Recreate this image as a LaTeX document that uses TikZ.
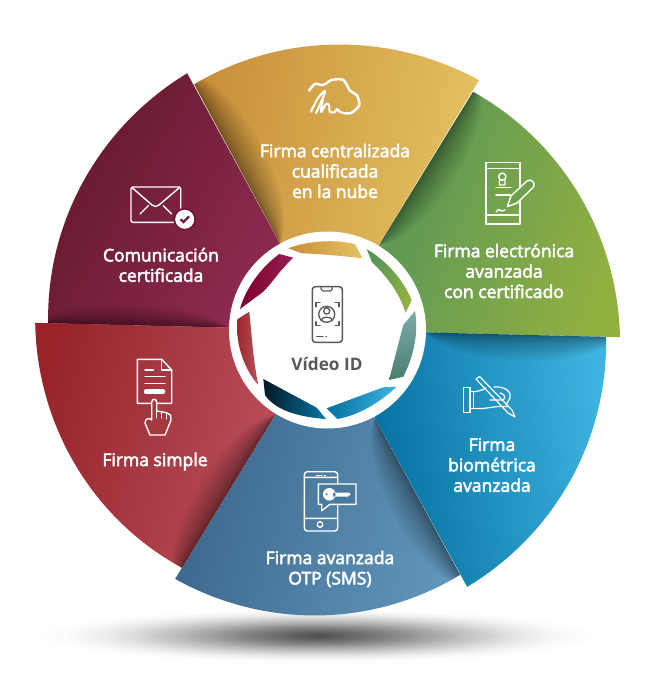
\documentclass[tikz,border=0pt]{standalone}
\usepackage{fontspec}
\setmainfont{Open Sans}[FakeBold=3]
\newfontfamily\vidfont{Open Sans}
\definecolor{goldA}{RGB}{200,143,58}\definecolor{goldB}{RGB}{228,194,98}
\definecolor{greenA}{RGB}{88,150,88}\definecolor{greenB}{RGB}{146,176,64}
\definecolor{blueA}{RGB}{4,112,160}\definecolor{blueB}{RGB}{64,180,224}
\definecolor{slateA}{RGB}{60,102,140}\definecolor{slateB}{RGB}{96,150,186}
\definecolor{redA}{RGB}{152,36,42}\definecolor{redB}{RGB}{186,80,92}
\definecolor{maroonA}{RGB}{98,24,42}\definecolor{maroonM}{RGB}{118,20,52}\definecolor{maroonB}{RGB}{142,42,80}
\definecolor{icongrey}{RGB}{88,89,91}
\newcommand\sectorpath[8]{(#1,#2) -- plot[domain=#5:#6,samples=60,variable=\t]
 ({327+(#7+(#8-#7)*(\t-#5)/(#6-#5))*cos(\t)},{333+(#7+(#8-#7)*(\t-#5)/(#6-#5))*sin(\t)}) -- (#3,#4) -- cycle}
\newcommand\edgeshade[5]{%
 \pgfmathsetmacro\edx{#3-#1}\pgfmathsetmacro\edy{#4-#2}\pgfmathsetmacro\elen{veclen(\edx,\edy)}%
 \pgfmathsetmacro\enx{\edy/\elen}\pgfmathsetmacro\eny{-\edx/\elen}%
 \foreach \i in {1,...,14}{\pgfmathsetmacro\offs{#5*(\i/14)^2*1.33}%
  \fill[black,opacity=.045] (#1,#2) .. controls ({#1+.15*\edx+\enx*\offs},{#2+.15*\edy+\eny*\offs}) and ({#1+.85*\edx+\enx*\offs},{#2+.85*\edy+\eny*\offs}) .. (#3,#4) -- cycle;}}
\tikzset{
 lbl/.style={text=white,font=\fontsize{17.5}{20.4}\selectfont,align=center,inner sep=0pt},
 ico/.style={draw=white,line width=1.4pt,line join=round,line cap=round},
 gico/.style={draw=icongrey,line width=1.5pt,line join=round,line cap=round}}
\begin{document}
\begin{tikzpicture}[x=1pt,y=-1pt]
\useasboundingbox (0,0) rectangle (655,687);
\fill[white] (0,0) rectangle (655,687);
% ground shadow
\foreach \k in {1,...,40}{\pgfmathsetmacro\rxx{285-\k*7.0}\pgfmathsetmacro\ryy{28-\k*.66}\pgfmathsetmacro\opa{.001+.0012*\k}
 \fill[black,opacity=\opa] (318,636) ellipse [x radius=\rxx pt,y radius=\ryy pt];}
% sectors
\begin{scope}\clip \sectorpath{327}{330}{327}{330}{241.7}{182}{295}{279};
 \shade[left color=maroonA,middle color=maroonM,right color=maroonB,shading angle=60] (40,70) rectangle (285,335);
 \edgeshade{35}{323}{229}{328}{20}\end{scope}
\begin{scope}\clip \sectorpath{327}{330}{327}{330}{241.9}{301}{282}{295};
 \shade[left color=goldA,right color=goldB,shading angle=80] (190,40) rectangle (485,250);
 \edgeshade{187}{73}{280}{243}{30}\end{scope}
\begin{scope}\clip \sectorpath{327}{330}{327}{330}{301.2}{360.8}{282}{293};
 \shade[left color=greenA,right color=greenB,shading angle=70] (375,90) rectangle (625,340);
 \edgeshade{479}{80}{378}{245}{30}\end{scope}
\begin{scope}\clip \sectorpath{327}{330}{327}{330}{0.8}{61.1}{279}{290};
 \shade[left color=blueA,right color=blueB,shading angle=100] (375,330) rectangle (610,590);
 \edgeshade{620}{337}{425}{332}{26}\end{scope}
\begin{scope}\clip \sectorpath{327}{330}{327}{330}{61.2}{121.7}{276}{289};
 \shade[left color=slateA,right color=slateB,shading angle=75] (170,410) rectangle (465,620);
 \edgeshade{467}{587}{375}{417}{30}\end{scope}
\begin{scope}\clip \sectorpath{327}{330}{327}{330}{121.7}{182}{276}{292};
 \shade[left color=redA,right color=redB,shading angle=75] (30,320) rectangle (285,575);
 \edgeshade{175}{579}{275}{415}{28}\end{scope}
% centre disc
\fill[white] (327.5,330) circle [radius=98.5pt];
% blades
\shade[left color=goldA,right color=goldB] (288.3,248.3) .. controls (305,241.5) and (335,238.5) .. (355,244.3) -- (362.7,258.3) .. controls (342,256) and (322,254) .. (301.7,253.3) -- cycle;
\shade[left color=greenA,right color=greenB,shading angle=50] (366.7,249) .. controls (388,262) and (403,280) .. (411.7,300) -- (405.7,312.7) .. controls (398,290) and (386,276) .. (371.7,261.7) -- cycle;
\shade[left color=slateA!50!greenA,right color=slateB!60!greenA!80!white,shading angle=180] (415,311) .. controls (418,328) and (416,352) .. (403.3,376.7) -- (389,380) -- (403.3,325) -- cycle;
\shade[left color=blueA,right color=blueB,shading angle=80] (396.7,386.7) .. controls (380,402) and (360,415) .. (337.3,419) -- (326.7,408.3) -- (383.3,387.3) -- cycle;
\shade[left color=black!75!blueA,right color=blueA,shading angle=80] (263.3,379) -- (316.7,407.7) -- (326,419) .. controls (298,417) and (275,410) .. (265,395) -- cycle;
\shade[left color=redA,right color=redB] (249.3,311.7) .. controls (252,340) and (254,365) .. (258.3,385) .. controls (245,370) and (235,345) .. (237.3,319.3) -- cycle;
\shade[left color={rgb,255:red,125;green,0;blue,45},right color={rgb,255:red,150;green,30;blue,80}] (279.3,254) -- (293.3,257.7) .. controls (280,270) and (272,283) .. (263.3,291.7) -- (240,309) .. controls (245,290) and (260,268) .. (279.3,254) -- cycle;
% labels
\node[lbl] (t1) at (335,171) {Firma centralizada\\cualificada\\en la nube};
\node[lbl] (t2) at (504,271) {Firma electrónica\\avanzada\\con certificado};
\node[lbl] (t3) at (492,465) {Firma\\biométrica\\avanzada};
\node[lbl] (t4) at (330,569) {Firma avanzada\\OTP (SMS)};
\node[lbl] (t5) at (155,461.5) {Firma simple};
\node[lbl] (t6) at (161,265) {Comunicación\\certificada};
\node[text=icongrey,inner sep=0pt,font=\vidfont\bfseries\fontsize{17.2}{18}\selectfont] (t7) at (327,363.5) {Vídeo ID};
% cloud signature
\draw[ico,line width=2.5pt] plot[smooth] coordinates {(309,90.7)(315,84)(323.3,85)(331.7,80)(343.3,80)(350,90.7)(356.7,95)(359.3,105)(351.7,112.7)(345,113.3)};
\draw[ico,line width=2.1pt] plot[smooth,tension=.6] coordinates {(311,111.7)(318,98)(325,91)(322,100)(316,113)};
\draw[ico,line width=2.1pt] plot[smooth,tension=.6] coordinates {(323,98.5)(321,112)(326,104)(329,105)(330,112)(335,112)(337,109)(340,112)(345,113.3)};
% certificate device
\draw[ico] (486,162.7) rectangle (520,224) (486,168.3) -- (520,168.3) (486,215) -- (520,215);
\draw[ico] (502.3,176.7) circle [radius=3.6pt] (499.5,180) -- (499.5,185) -- (505,185) -- (505,180);
\draw[ico] (496,187.7) -- (510.7,187.7) (496,195) -- (510.7,195);
\draw[ico] plot[smooth] coordinates {(496,212)(499,209.5)(501.5,211)(505,210)};
\draw[ico,fill=greenA!60!greenB] (507.3,206.7) -- (511,196) -- (527,181) .. controls (531,178) and (536,183) .. (533.5,187) -- (517,203) -- cycle;
% hand with pen
\draw[ico,line width=1.2pt] (463.3,387.3) rectangle (470,412.7) (470,391.7) -- (473.3,391.7) -- (473.3,408.3) -- (470,408.3);
\draw[ico,line width=1.2pt] (473.3,392) .. controls (478,391) and (482,390.5) .. (486,388);
\draw[ico,line width=1.2pt] (473.3,408.3) .. controls (485,410) and (495,405) .. (508,406.7);
\draw[ico,line width=1.2pt] (494,387) .. controls (505,386) and (512,392) .. (510,398) -- (506,405);
\draw[ico,line width=1.2pt] (490,400) -- (503,400) .. controls (506,398) and (505,394) .. (500,393);
\draw[ico,line width=1.2pt] (476,379) -- (479.5,376.5) -- (512,410) -- (515,417) -- (508,413) -- cycle;
% phone + key
\draw[ico] (304.3,471.7) [rounded corners=3pt] rectangle (337.7,531);
\draw[ico] (304.3,477.3) -- (337.7,477.3) (304.3,518.3) -- (337.7,518.3) (320,524.5) circle [radius=2.8pt];
\draw[ico,line width=1pt] (316.7,475) -- (322,475) (324,475) -- (325.5,475);
\draw[ico,fill=slateA!60!slateB] (318.3,484) -- (356,484) -- (356,504.3) -- (330,504.3) -- (321.7,510.7) -- (321.7,504.3) -- (318.3,504.3) -- cycle;
\fill[white] (329.3,494.3) circle [radius=6.3pt] (333,492.5) -- (349,492.5) -- (350.5,494.5) -- (348,496.5) -- (333,496.5) -- cycle;
\fill[slateA!60!slateB] (326.5,494.3) circle [radius=1.1pt];
% envelope
\draw[ico] (131,187) [rounded corners=1.5pt] rectangle (180.7,222.3);
\draw[ico] (132.5,188) -- (152,205) .. controls (154,207) and (157,207) .. (159,205) -- (179,188);
\draw[ico] (140,214) -- (148.3,205.7) (171.7,214) -- (163.3,205.7);
\fill[maroonM] (184.7,219.3) circle [radius=11.5pt];
\fill[white] (184.7,219.3) circle [radius=9.5pt];
\draw[draw=maroonM,line width=2.2pt] (180.5,219.3) -- (183.5,222) -- (189,216.5);
% document + hand
\draw[ico] (137.3,359.3) -- (161.7,359.3) -- (171.7,370) -- (171.7,403.3) -- (137.3,403.3) -- cycle;
\draw[ico] (161.7,359.3) -- (161.7,370) -- (171.7,370);
\draw[ico] (145,370) -- (153.3,370) (145,376.7) -- (165,376.7) (145,383.3) -- (165,383.3);
\draw[ico,line width=4.5pt] (146,391.7) -- (163,391.7);
\draw[ico,fill=redA!55!redB] (151.7,420) -- (151.7,402) .. controls (151.7,398.5) and (156.7,398.5) .. (156.7,402) -- (156.7,411) -- (163,412) -- (167,413) -- (170.5,415) -- (171,420) -- (165,435) -- (150,435) -- (145,423) .. controls (145,419) and (149,417) .. (151.7,420);
\draw[ico,line width=1pt] (161.5,412) -- (161.5,418) (166.5,413) -- (166.5,419) (156.7,411) -- (156.7,418);
% video phone
\draw[gico,rounded corners=3pt] (312.3,286.7) rectangle (342.3,342.3);
\draw[gico,line width=1.2pt] (321,286.7) -- (321,289) -- (323,291) -- (330.5,291) -- (332.3,289) -- (332.3,286.7);
\draw[gico,line width=1.5pt] (316,306.7) -- (316,302.7) -- (320,302.7) (335,302.7) -- (339,302.7) -- (339,306.7) (316,321.7) -- (316,325.7) -- (320,325.7) (335,325.7) -- (339,325.7) -- (339,321.7);
\draw[gico,line width=1.3pt] (326.7,314.3) circle [radius=8pt] (326.7,311) circle [radius=3.1pt];
\draw[gico,line width=1.3pt] (321,320.5) .. controls (321.5,316) and (332,316) .. (332.5,320.5);
\draw[gico,line width=1.1pt] (316.7,336.7) -- (323,336.7) (326,336.7) -- (326.5,336.7);
\end{tikzpicture}
\end{document}
